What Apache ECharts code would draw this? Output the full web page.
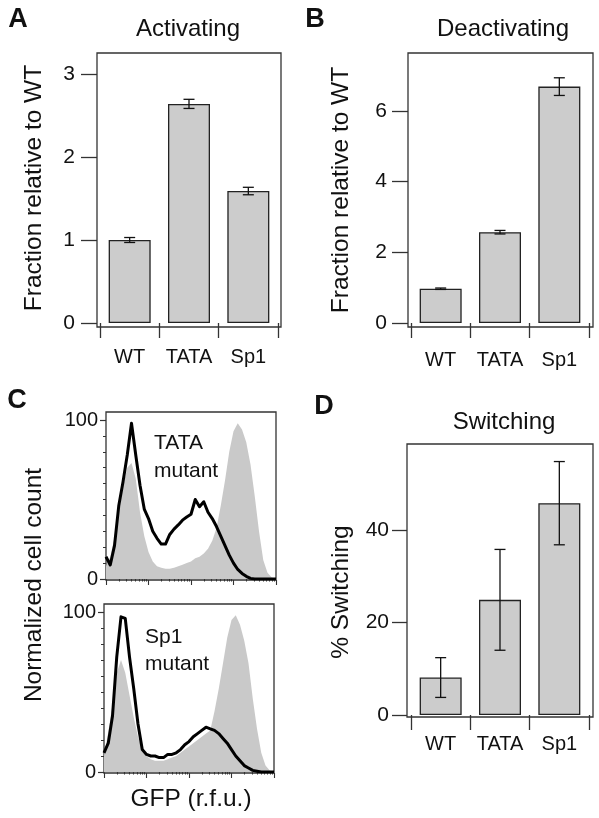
<!DOCTYPE html>
<html>
<head>
<meta charset="utf-8">
<script src="https://cdn.jsdelivr.net/npm/echarts@6/dist/echarts.min.js"></script>
<style>
html,body{margin:0;padding:0;background:#fff;}
#c{width:599px;height:818px;}
</style>
</head>
<body>
<div id="c"></div>
<script>
// ---------- data ----------
var categories = ['WT', 'TATA', 'Sp1'];

var activatingMean = [1.00, 2.64, 1.59];
var activatingErr  = [0.03, 0.055, 0.045];

var deactivatingMean = [0.97, 2.57, 6.69];
var deactivatingErr  = [0.02, 0.05, 0.25];

var switchingMean = [8.1, 24.9, 45.8];
var switchingErr  = [4.3, 10.9, 9.0];

var actTicks = [0, 1, 2, 3];
var deactTicks = [0, 2, 4, 6];
var switchTicks = [0, 20, 40];

// GFP histogram bins (log10 r.f.u.)
var gfpLog = [1.0,1.1,1.2,1.3,1.4,1.5,1.6,1.7,1.8,1.9,
              2.0,2.1,2.2,2.3,2.4,2.5,2.6,2.7,2.8,2.9,
              3.0,3.1,3.2,3.3,3.4,3.5,3.6,3.7,3.8,3.9,
              4.0,4.1,4.2,4.3,4.4,4.5,4.6,4.7,4.8,4.9,5.0];

// TATA panel
var wtCountTop   = [8,14,26,42,58,70,73,63,42,27,
                    17,11,8,7,6.5,6.5,7,8,9,10,
                    11,13,14,16,19,24,32,46,62,80,
                    93,98,94,86,72,52,30,12,4,1,0];
var tataCount    = [14,8.8,21,46,61,78,98,78,59,44,
                    38,30,25.6,22,22,28,31.4,34,37,39,
                    40.7,50,45.5,48.6,42,38,33,27,21,15,
                    10,6,3.5,1.7,0.4,0,0,0,0,0,0];

// Sp1 panel
var wtCountBottom = [10,25,42,62,70,62,48,34,22,14,
                     10,8,7,7,7,8,9,10,12,14,
                     16,18,20,22,24,26,38,52,68,84,
                     95,98,92,82,68,46,27,12,4,1,0];
var sp1Count      = [12,18,35,72,97,96,72,52,30,14,
                     11,10,10,9,9,11,11,12,14,17,
                     19,22,24,26,28,27,26,24,21,18,
                     14,10,7,4,2.5,1,0.5,0,0,0,0];

var histTicks = [0, 100];
var gfpDecades = [1, 2, 3, 4, 5];

// ---------- helpers ----------
var FONT = "'Liberation Sans', Arial, Helvetica, sans-serif";
var INK = '#111';
var LINE = '#333';
var TICKFS = 21;

function pairs(xs, ys) { return xs.map(function (x, i) { return [x, ys[i]]; }); }
function errData(m, e) { return m.map(function (v, i) { return [i, v - e[i], v + e[i]]; }); }

function errRender(params, api) {
  var x = api.value(0), lo = api.value(1), hi = api.value(2);
  var a = api.coord([x, lo]), b = api.coord([x, hi]);
  var w = 5.5;
  var st = { stroke: INK, lineWidth: 1.3 };
  return { type: 'group', children: [
    { type: 'line', shape: { x1: a[0], y1: a[1], x2: b[0], y2: b[1] }, style: st },
    { type: 'line', shape: { x1: a[0] - w, y1: a[1], x2: a[0] + w, y2: a[1] }, style: st },
    { type: 'line', shape: { x1: b[0] - w, y1: b[1], x2: b[0] + w, y2: b[1] }, style: st }
  ]};
}

var minorVals = [];
gfpDecades.slice(0, 4).forEach(function (d) {
  for (var k = 2; k <= 9; k++) minorVals.push(d + Math.log10(k));
});
var majorVals = gfpDecades.slice();

function frameGrid(l, t, w, h) {
  return { left: l, top: t, width: w, height: h, show: true, borderColor: LINE, borderWidth: 1.3, backgroundColor: 'transparent' };
}
function hiddenAxis(gi) { return { gridIndex: gi, type: 'value', show: false }; }

function catAxis(gi, offset, margin) {
  return {
    gridIndex: gi, type: 'category', data: categories, position: 'bottom', offset: offset,
    axisLine: { show: false },
    axisTick: { show: true, length: 15, alignWithLabel: false, lineStyle: { color: LINE, width: 1.3 } },
    axisLabel: { fontFamily: FONT, fontSize: 20, color: INK, margin: margin, interval: 0 }
  };
}
function valAxis(gi, max, interval, offset, margin, tickLen) {
  return {
    gridIndex: gi, type: 'value', min: 0, max: max, interval: interval, position: 'left', offset: offset,
    axisLine: { show: false }, splitLine: { show: false },
    axisTick: { show: true, length: tickLen, lineStyle: { color: LINE, width: 1.3 } },
    axisLabel: { fontFamily: FONT, fontSize: TICKFS, color: INK, margin: margin }
  };
}
function histY(gi) {
  return {
    gridIndex: gi, type: 'value', min: histTicks[0], max: histTicks[1], interval: 100, position: 'left',
    axisLine: { show: false }, splitLine: { show: false }, minorSplitLine: { show: false },
    axisTick: { show: true, length: 6, lineStyle: { color: LINE, width: 1.2 } },
    minorTick: { show: true, splitNumber: 10, length: 3, lineStyle: { color: LINE, width: 1 } },
    axisLabel: { fontFamily: FONT, fontSize: 20, color: INK, margin: 8 }
  };
}
function histX(gi, vals, len) {
  return {
    gridIndex: gi, type: 'value', min: 1, max: 5, position: 'bottom', offset: 1,
    axisLine: { show: false }, splitLine: { show: false }, axisLabel: { show: false },
    axisTick: { show: true, length: len, customValues: vals, lineStyle: { color: LINE, width: 1.1 } }
  };
}

var barStyle = { color: '#cccccc', borderColor: '#222', borderWidth: 1.3 };
function barSeries(ai, vals) {
  return { type: 'bar', xAxisIndex: ai.x, yAxisIndex: ai.y, data: vals, barWidth: 42, clip: false, itemStyle: barStyle, silent: true, z: 2 };
}
function errSeries(ai, m, e) {
  return { type: 'custom', xAxisIndex: ai.x, yAxisIndex: ai.y, data: errData(m, e), renderItem: errRender, clip: false, z: 5, silent: true };
}
function areaSeries(xi, yi, ys) {
  return { type: 'line', xAxisIndex: xi, yAxisIndex: yi, data: pairs(gfpLog, ys), symbol: 'none', smooth: false,
    lineStyle: { width: 0 }, areaStyle: { color: '#c9c9c9', opacity: 1 }, z: 2, silent: true };
}
function blackSeries(xi, yi, ys) {
  return { type: 'line', xAxisIndex: xi, yAxisIndex: yi, data: pairs(gfpLog, ys), symbol: 'none', smooth: false,
    lineStyle: { width: 3, color: '#000', join: 'round' }, z: 3, silent: true };
}

function txt(text, x, y, size, opts) {
  opts = opts || {};
  return {
    type: 'text', x: x, y: y, rotation: opts.rot || 0, z: 100,
    style: {
      text: text, fill: INK,
      font: (opts.bold ? 'bold ' : '') + size + 'px ' + FONT,
      textAlign: opts.align || 'center', align: opts.align || 'center',
      textVerticalAlign: 'middle', verticalAlign: 'middle'
    }
  };
}

var option = {
  animation: false,
  backgroundColor: '#fff',
  grid: [
    frameGrid(97, 53, 184, 274),               // 0 A frame
    { left: 100, top: 74, width: 178, height: 249 },   // 1 A data
    frameGrid(408, 53, 185, 274),              // 2 B frame
    { left: 411, top: 111, width: 178, height: 212 },  // 3 B data
    frameGrid(407, 444, 186, 273),             // 4 D frame
    { left: 411, top: 530, width: 178, height: 185 },  // 5 D data
    frameGrid(106, 412, 170, 168),             // 6 C top frame
    { left: 106, top: 420, width: 170, height: 159 },  // 7 C top data
    frameGrid(104, 604, 170, 169),             // 8 C bottom frame
    { left: 104, top: 612, width: 170, height: 160 }   // 9 C bottom data
  ],
  xAxis: [
    hiddenAxis(0),            // 0
    catAxis(1, 4, 20),        // 1
    hiddenAxis(2),            // 2
    catAxis(3, 4, 23),        // 3
    hiddenAxis(4),            // 4
    catAxis(5, 3, 16),        // 5
    hiddenAxis(6),            // 6
    histX(7, minorVals, 2.5), // 7
    histX(7, majorVals, 5),   // 8
    hiddenAxis(8),            // 9
    histX(9, minorVals, 2.5), // 10
    histX(9, majorVals, 5)    // 11
  ],
  yAxis: [
    hiddenAxis(0),                         // 0
    valAxis(1, actTicks[3], 1, 3, 22, 16),   // 1
    hiddenAxis(2),                         // 2
    valAxis(3, deactTicks[3], 2, 3, 21, 16), // 3
    hiddenAxis(4),                         // 4
    valAxis(5, switchTicks[2], 20, 4, 18, 15), // 5
    hiddenAxis(6),                         // 6
    histY(7),                              // 7
    hiddenAxis(8),                         // 8
    histY(9)                               // 9
  ],
  series: [
    barSeries({ x: 1, y: 1 }, activatingMean),
    errSeries({ x: 1, y: 1 }, activatingMean, activatingErr),
    barSeries({ x: 3, y: 3 }, deactivatingMean),
    errSeries({ x: 3, y: 3 }, deactivatingMean, deactivatingErr),
    barSeries({ x: 5, y: 5 }, switchingMean),
    errSeries({ x: 5, y: 5 }, switchingMean, switchingErr),
    areaSeries(7, 7, wtCountTop),
    blackSeries(7, 7, tataCount),
    areaSeries(10, 9, wtCountBottom),
    blackSeries(10, 9, sp1Count)
  ],
  graphic: { elements: [
    txt('A', 18, 20, 27, { bold: true }),
    txt('B', 315, 20, 27, { bold: true }),
    txt('C', 17, 401, 27, { bold: true }),
    txt('D', 324, 407, 27, { bold: true }),
    txt('Activating', 188, 29.5, 24),
    txt('Deactivating', 503, 29.5, 24),
    txt('Switching', 504, 422, 24),
    txt('Fraction relative to WT', 34, 188, 24.5, { rot: Math.PI / 2 }),
    txt('Fraction relative to WT', 341, 190, 24.5, { rot: Math.PI / 2 }),
    txt('% Switching', 341, 592, 24.5, { rot: Math.PI / 2 }),
    txt('Normalized cell count', 34, 585, 24.5, { rot: Math.PI / 2 }),
    txt('GFP (r.f.u.)', 191, 799, 24.5),
    txt('TATA', 154, 443, 21, { align: 'left' }),
    txt('mutant', 154, 471.5, 21, { align: 'left' }),
    txt('Sp1', 145, 637.5, 21, { align: 'left' }),
    txt('mutant', 145, 664.5, 21, { align: 'left' })
  ]}
};

var chart = echarts.init(document.getElementById('c'), null, { renderer: 'canvas' });
chart.setOption(option);
</script>
</body>
</html>
